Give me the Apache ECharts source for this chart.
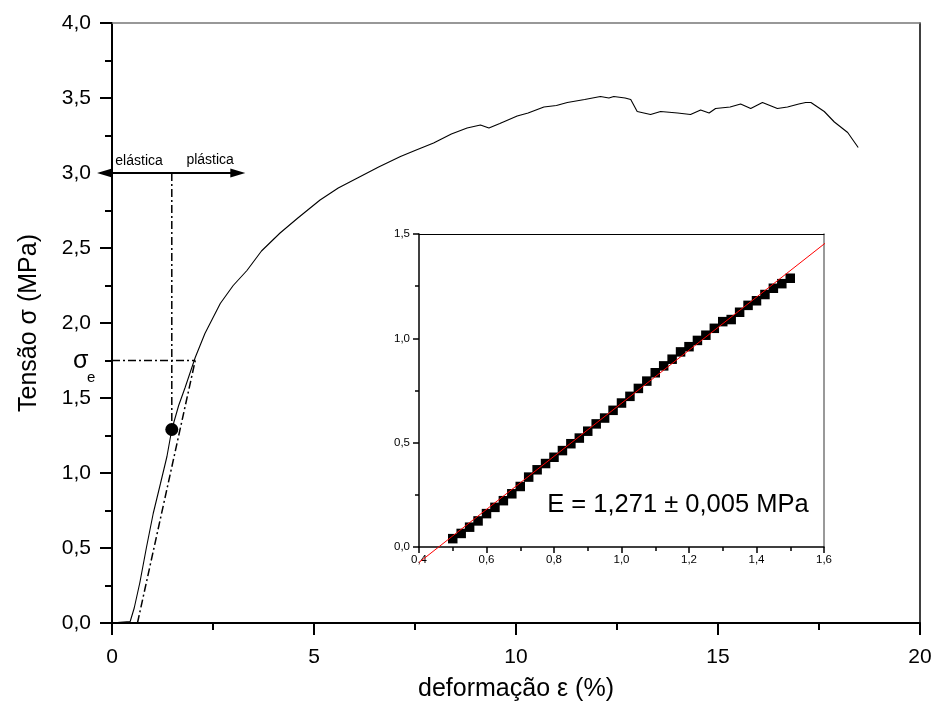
<!DOCTYPE html>
<html>
<head>
<meta charset="utf-8">
<script src="https://cdn.jsdelivr.net/npm/echarts@6/dist/echarts.min.js"></script>
<style>
html,body{margin:0;padding:0;background:#fff;}
#c{width:936px;height:715px;}
</style>
</head>
<body>
<div id="c"></div>
<script>
// ---- main stress-strain curve ----
const strain = [0,0.2,0.45,0.55,0.69,0.85,1.02,1.2,1.36,1.48,1.65,1.81,2.06,2.3,2.68,3.0,3.34,3.7,4.16,4.6,5.15,5.6,6.1,6.6,7.14,7.5,7.96,8.4,8.79,9.12,9.33,9.6,10.03,10.3,10.69,11.0,11.27,11.7,12.09,12.3,12.42,12.7,12.84,13.0,13.33,13.58,14.0,14.32,14.57,14.78,14.94,15.3,15.56,15.81,16.1,16.47,16.72,17.0,17.17,17.3,17.63,17.88,18.21,18.47];
const stress = [0,0.005,0.01,0.1,0.27,0.5,0.73,0.93,1.11,1.29,1.45,1.57,1.77,1.93,2.13,2.25,2.35,2.48,2.6,2.7,2.82,2.9,2.97,3.04,3.11,3.15,3.2,3.26,3.3,3.32,3.3,3.33,3.38,3.4,3.44,3.45,3.47,3.49,3.51,3.5,3.51,3.5,3.49,3.41,3.39,3.41,3.4,3.39,3.42,3.4,3.43,3.44,3.46,3.43,3.47,3.43,3.44,3.46,3.47,3.47,3.41,3.34,3.27,3.17];

// ---- annotation values (main axes units) ----
const yieldStress = 1.75;          // sigma_e
const yieldStrainEnd = 2.06;
const offsetLineX = [0.63, 2.06];
const offsetLineY = [0, 1.75];
const markerPoint = [1.48, 1.29];
const arrowY = 3.0;
const arrowX = [-0.37, 3.3];
const labelElastica = [0.67, 3.0];
const labelPlastica = [2.43, 3.0];

// ---- inset: elastic region + linear fit ----
const insetStrain = [0.5,0.525,0.55,0.575,0.6,0.625,0.65,0.675,0.7,0.725,0.75,0.775,0.8,0.825,0.85,0.875,0.9,0.925,0.95,0.975,1.0,1.025,1.05,1.075,1.1,1.125,1.15,1.175,1.2,1.225,1.25,1.275,1.3,1.325,1.35,1.375,1.4,1.425,1.45,1.475,1.5];
const insetStress = [0.04,0.065,0.095,0.125,0.16,0.19,0.222,0.255,0.29,0.335,0.37,0.4,0.43,0.462,0.495,0.522,0.555,0.59,0.618,0.655,0.69,0.722,0.76,0.795,0.835,0.868,0.9,0.935,0.96,0.99,1.015,1.048,1.08,1.09,1.125,1.158,1.18,1.21,1.24,1.262,1.288];
const fitX = [0.4, 1.605];
const fitY = [-0.074, 1.458];
const fitLabel = 'E = 1,271 ± 0,005 MPa';
const fitLabelPos = [0.78, 0.2];

// ---- axis ticks ----
const mainXTicks = {min:0, max:20, step:5};
const mainYTicks = {min:0, max:4, step:0.5};
const insetXTicks = {min:0.4, max:1.6, step:0.2};
const insetYTicks = {min:0, max:1.5, step:0.5};

const FONT = '"Liberation Sans", Arial, Helvetica, sans-serif';
const comma = (v, d) => v.toFixed(d).replace('.', ',');
const zip = (a, b) => a.map((v, i) => [v, b[i]]);

const chart = echarts.init(document.getElementById('c'), null, {renderer:'canvas'});

function baseAxis(t, grid, fs, margin, fmt, tickLen, minorLen, lineW) {
  return {
    type:'value', gridIndex:grid, min:t.min, max:t.max, interval:t.step,
    axisLine:{show:true, onZero:false, lineStyle:{color:'#000', width:lineW}},
    axisTick:{show:true, inside:false, length:tickLen, lineStyle:{color:'#000', width:lineW}},
    minorTick:{show:true, splitNumber:2, length:minorLen, lineStyle:{color:'#000', width:lineW}},
    splitLine:{show:false},
    axisLabel:{fontFamily:FONT, fontSize:fs, color:'#000', margin:margin, formatter:fmt}
  };
}
function frameAxis(t, grid, pos, color, w) {
  return {
    type:'value', gridIndex:grid, position:pos, min:t.min, max:t.max, interval:t.step,
    axisLine:{show:true, onZero:false, lineStyle:{color:color, width:w}},
    axisTick:{show:false}, minorTick:{show:false}, axisLabel:{show:false}, splitLine:{show:false}
  };
}

const xMain = baseAxis(mainXTicks, 0, 21, 24, v => String(v), 12, 7, 2);
xMain.name = 'deformação ε (%)';
xMain.nameLocation = 'middle';
xMain.nameGap = 54;
xMain.nameTextStyle = {fontFamily:FONT, fontSize:25, color:'#000'};
const yMain = baseAxis(mainYTicks, 0, 21, 21, v => comma(v,1), 12, 7, 2);
yMain.name = 'Tensão σ (MPa)';
yMain.nameLocation = 'middle';
yMain.nameGap = 70;
yMain.nameTextStyle = {fontFamily:FONT, fontSize:25, color:'#000'};

const xIns = baseAxis(insetXTicks, 1, 11.5, 7, v => comma(v,1), 6, 4, 1.5);
const yIns = baseAxis(insetYTicks, 1, 11.5, 9, v => comma(v,1), 6, 4, 1.5);

const dashDot = {color:'#000', width:1.5, type:[8,3,2,3]};

const option = {
  backgroundColor:'#fff',
  animation:false,
  grid:[
    {left:112, top:23, right:16, bottom:92},
    {left:419, top:234, right:112, bottom:168}
  ],
  xAxis:[xMain, xIns, frameAxis(mainXTicks,0,'top','#777',1.5), frameAxis(insetXTicks,1,'top','#000',1)],
  yAxis:[yMain, yIns, frameAxis(mainYTicks,0,'right','#000',1.5), frameAxis(insetYTicks,1,'right','#777',1.5)],
  series:[
    {type:'line', xAxisIndex:0, yAxisIndex:0, data:zip(strain, stress), showSymbol:false, symbol:'none',
     lineStyle:{color:'#000', width:1.1}, z:5},
    {type:'line', xAxisIndex:0, yAxisIndex:0, data:zip(offsetLineX, offsetLineY), symbol:'none', lineStyle:dashDot, clip:false},
    {type:'line', xAxisIndex:0, yAxisIndex:0, data:[[0, yieldStress],[yieldStrainEnd, yieldStress]], symbol:'none', lineStyle:dashDot, clip:false},
    {type:'line', xAxisIndex:0, yAxisIndex:0, data:[[markerPoint[0], arrowY],[markerPoint[0], markerPoint[1]]], symbol:'none', lineStyle:dashDot, clip:false},
    {type:'scatter', xAxisIndex:0, yAxisIndex:0, data:[markerPoint], symbol:'circle', symbolSize:13,
     itemStyle:{color:'#000', opacity:1}, z:6},
    {type:'scatter', xAxisIndex:1, yAxisIndex:1, data:zip(insetStrain, insetStress), symbol:'rect', symbolSize:9.5,
     itemStyle:{color:'#000', opacity:1}, z:3},
    {type:'line', xAxisIndex:1, yAxisIndex:1, data:zip(fitX, fitY), symbol:'none', clip:false,
     lineStyle:{color:'#ff0000', width:1}, z:4}
  ]
};
chart.setOption(option);

// annotations positioned through the library's own scales
const P = (p) => chart.convertToPixel({xAxisIndex:0, yAxisIndex:0}, p);
const Pi = (p) => chart.convertToPixel({xAxisIndex:1, yAxisIndex:1}, p);
const a0 = P([arrowX[0], arrowY]);
const a1 = P([arrowX[1], arrowY]);
const headL = 15, headW = 4.5;
const el = P(labelElastica), pl = P(labelPlastica);
const se = P([0, yieldStress]);
const fl = Pi(fitLabelPos);

chart.setOption({
  graphic:[
    {type:'line', shape:{x1:a0[0]+headL-2, y1:a0[1], x2:a1[0]-headL+2, y2:a1[1]}, style:{stroke:'#000', lineWidth:2}, z:20},
    {type:'polygon', shape:{points:[[a0[0],a0[1]],[a0[0]+headL,a0[1]-headW],[a0[0]+headL,a0[1]+headW]]}, style:{fill:'#000'}, z:20},
    {type:'polygon', shape:{points:[[a1[0],a1[1]],[a1[0]-headL,a1[1]-headW],[a1[0]-headL,a1[1]+headW]]}, style:{fill:'#000'}, z:20},
    {type:'text', x:el[0], y:el[1]-5, style:{text:'elástica', font:'14px '+FONT, fill:'#000', textAlign:'center', textVerticalAlign:'bottom'}, z:20},
    {type:'text', x:pl[0], y:pl[1]-6, style:{text:'plástica', font:'14px '+FONT, fill:'#000', textAlign:'center', textVerticalAlign:'bottom'}, z:20},
    {type:'text', x:se[0]-39, y:se[1]+1, style:{text:'σ', font:'25px '+FONT, fill:'#000', textAlign:'left', textVerticalAlign:'middle'}, z:20},
    {type:'text', x:se[0]-25, y:se[1]+17, style:{text:'e', font:'15px '+FONT, fill:'#000', textAlign:'left', textVerticalAlign:'middle'}, z:20},
    {type:'text', x:fl[0], y:fl[1], style:{text:fitLabel, font:'25.5px '+FONT, fill:'#000', textAlign:'left', textVerticalAlign:'middle'}, z:20}
  ]
});
</script>
</body>
</html>
